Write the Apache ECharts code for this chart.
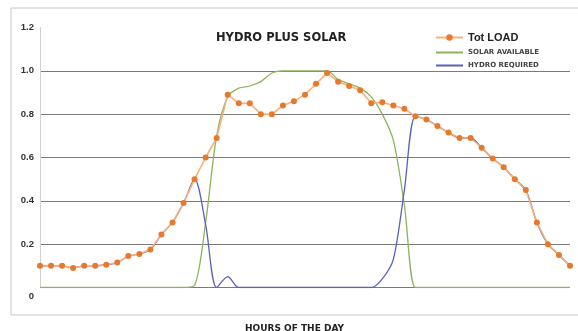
<!DOCTYPE html>
<html>
<head>
<meta charset="utf-8">
<script src="https://cdn.jsdelivr.net/npm/echarts@6/dist/echarts.min.js"></script>
<style>
  html, body { margin: 0; padding: 0; background: #fff; }
  #main { width: 578px; height: 331px; }
</style>
</head>
<body>
<div id="main"></div>
<script>
// half-hour steps through the day
var hours = ['0:00','0:30','1:00','1:30','2:00','2:30','3:00','3:30','4:00','4:30',
	'5:00','5:30','6:00','6:30','7:00','7:30','8:00','8:30','9:00','9:30',
	'10:00','10:30','11:00','11:30','12:00','12:30','13:00','13:30','14:00','14:30',
	'15:00','15:30','16:00','16:30','17:00','17:30','18:00','18:30','19:00','19:30',
	'20:00','20:30','21:00','21:30','22:00','22:30','23:00','23:30','24:00'];

var totLoad = [0.10,0.10,0.10,0.09,0.10,0.10,0.105,0.115,0.145,0.155,
	0.175,0.245,0.30,0.39,0.50,0.60,0.69,0.89,0.85,0.85,
	0.80,0.80,0.84,0.86,0.89,0.94,0.99,0.95,0.93,0.91,
	0.85,0.855,0.84,0.825,0.79,0.775,0.745,0.715,0.69,0.69,
	0.645,0.595,0.555,0.50,0.45,0.30,0.20,0.15,0.10];

var solarAvail = [0,0,0,0,0,0,0,0,0,0,
	0,0,0,0,0.01,0.30,0.70,0.88,0.92,0.93,
	0.95,0.99,1.0,1.0,1.0,1.0,1.0,0.96,0.94,0.92,
	0.88,0.80,0.68,0.38,0,0,0,0,0,0,
	0,0,0,0,0,0,0,0,0];

var hydroReq = [0.10,0.10,0.10,0.09,0.10,0.10,0.105,0.115,0.145,0.155,
	0.175,0.245,0.30,0.39,0.50,0.29,0,0.05,0,0,
	0,0,0,0,0,0,0,0,0,0,
	0,0.04,0.13,0.45,0.79,0.775,0.745,0.715,0.69,0.69,
	0.645,0.595,0.555,0.50,0.45,0.30,0.20,0.15,0.10];

var font = 'Liberation Sans, Arial, sans-serif';
var wide = 'DejaVu Sans, sans-serif';
var chart = echarts.init(document.getElementById('main'));

var option = {
	animation: false,
	title: [
		{
			text: 'HYDRO PLUS SOLAR',
			left: 211, top: 27,
			textStyle: { fontFamily: wide, fontSize: 11.5, fontWeight: 'bold', color: '#222' }
		},
		{
			text: 'HOURS OF THE DAY',
			left: 240, top: 319,
			textStyle: { fontFamily: wide, fontSize: 9, fontWeight: 'bold', color: '#222' }
		}
	],
	legend: {
		orient: 'vertical',
		left: 430, top: 27,
		itemWidth: 27, itemHeight: 8, itemGap: 6,
		textStyle: { fontFamily: wide, fontWeight: 'bold', color: '#444', fontSize: 7 },
		data: [
			{ name: 'Tot LOAD', textStyle: { fontFamily: font, fontSize: 11, color: '#222' } },
			{ name: 'SOLAR AVAILABLE', itemStyle: { opacity: 0 } },
			{ name: 'HYDRO REQUIRED', itemStyle: { opacity: 0 } }
		]
	},
	graphic: [
		{
			type: 'rect',
			shape: { x: 11, y: 8, width: 620, height: 307 },
			style: { fill: 'none', stroke: '#c8c8c8', lineWidth: 1 },
			z: -1
		}
	],
	grid: { left: 40, right: 8, top: 27.5, bottom: 43.5 },
	xAxis: {
		type: 'category',
		data: hours,
		boundaryGap: false,
		axisLine: { show: false },
		axisTick: { show: false },
		axisLabel: { show: false }
	},
	yAxis: {
		type: 'value',
		min: 0, max: 1.2, interval: 0.2,
		axisLine: { show: true, lineStyle: { color: '#d0d0d0' } },
		axisTick: { show: false },
		axisLabel: {
			fontFamily: font, fontSize: 9.5, fontWeight: 'bold', color: '#333', margin: 6,
			formatter: function(v) {
				if (v === 0) return '{z|0}';
				return v.toFixed(1);
			},
			rich: { z: { fontFamily: font, fontSize: 9.5, fontWeight: 'bold', color: '#333', padding: [18, 0, 0, 0] } }
		},
		splitLine: { show: true, showMaxLine: false, lineStyle: { color: '#7a7a7a', width: 1 } }
	},
	series: [
		{
			name: 'Tot LOAD',
			type: 'line',
			data: totLoad,
			z: 4,
			symbol: 'circle',
			symbolSize: 6,
			lineStyle: { color: '#f6b27c', width: 1.6 },
			itemStyle: { color: '#e8782c' }
		},
		{
			name: 'SOLAR AVAILABLE',
			type: 'line',
			data: solarAvail,
			z: 2,
			smooth: 0.3,
			symbol: 'none',
			lineStyle: { color: '#8fb25c', width: 1.3 },
			itemStyle: { color: '#8fb25c' }
		},
		{
			name: 'HYDRO REQUIRED',
			type: 'line',
			data: hydroReq,
			z: 3,
			smooth: 0.3,
			symbol: 'none',
			lineStyle: { color: '#5c60b8', width: 1.3 },
			itemStyle: { color: '#5c60b8' }
		}
	]
};

chart.setOption(option);
</script>
</body>
</html>
